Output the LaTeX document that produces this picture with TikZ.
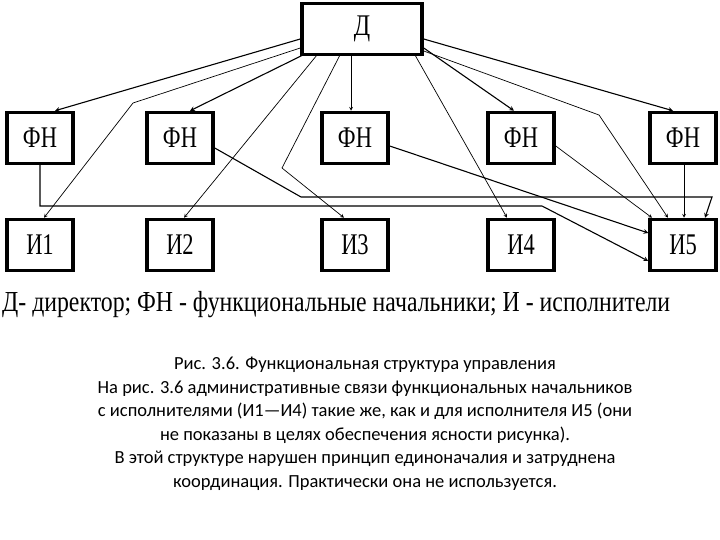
\documentclass[tikz,border=0pt]{standalone}
\usepackage{fontspec}
\setmainfont{Liberation Serif}
\newfontfamily\capfont{Carlito}
\begin{document}
\begin{tikzpicture}[x=1pt,y=-1pt,
  box/.style={draw,line width=3.5pt,minimum width=66pt,minimum height=51pt,inner sep=0pt,font=\fontsize{30}{30}\selectfont},
  arr/.style={->,>=stealth,line width=0.7pt},
  lnk/.style={->,>=stealth,line width=1.1pt}]
\useasboundingbox (0,0) rectangle (720,540);
\node[box,minimum width=120pt] (D) at (362,29) {\scalebox{0.8}[1]{Д}};
\foreach \i/\x in {1/40,2/180,3/355,4/521,5/683}{
  \node[box] (F\i) at (\x,138) {\scalebox{0.75}[1]{ФН}};
  \node[box] (I\i) at (\x,245) {\scalebox{0.75}[1]{И\i}};
}
% from director
\draw[lnk] (D.west|-0,39) -- (F1.north-|55,0);
\draw[arr] (D.west|-0,48) -- (133,103) -- (I1.north-|44,0);
\draw[lnk] (303,55) -- (F2.north-|190,0);
\draw[arr] (317,55) -- (I2.north-|184,0);
\draw[arr] (340,55) -- (282,168) -- (I3.north-|344,0);
\draw[arr] (D.south-|351,0) -- (F3.north-|351,0);
\draw[arr] (415,55) -- (I4.north-|507,0);
\draw[lnk] (D.east|-0,48) -- (F4.north-|514,0);
\draw[arr] (D.east|-0,51) -- (599,115) -- (I5.north-|668,0);
\draw[lnk] (D.east|-0,39) -- (F5.north-|673,0);
% from functional heads
\draw[lnk] (F1.south) -- (40,206) -- (542,206) -- (I5.west|-0,261);
\draw[lnk] (F2.east|-0,148) -- (301,197) -- (712,197) -- (I5.north-|705,0);
\draw[lnk] (F3.east|-0,146) -- (I5.west|-0,233);
\draw[arr] (F4.east|-0,146) -- (I5.north-|652,0);
\draw[arr] (F5.south-|684,0) -- (I5.north-|684,0);
% legend
\node[anchor=west,inner sep=0pt,font=\fontsize{29}{29}\selectfont] (L) at (2,305)
 {\scalebox{0.82}[1]{Д- директор; ФН - функциональные начальники; И - исполнители}};
\node[align=center,inner sep=0pt,font=\capfont\fontsize{18.5}{23.5}\selectfont] (C) at (365,424)
 {Рис. 3.6. Функциональная структура управления\\
 На рис. 3.6 административные связи функциональных начальников\\
 с исполнителями (И1—И4) такие же, как и для исполнителя И5 (они\\
 не показаны в целях обеспечения ясности рисунка).\\
 В этой структуре нарушен принцип единоначалия и затруднена\\
 координация. Практически она не используется.};
\end{tikzpicture}
\end{document}
